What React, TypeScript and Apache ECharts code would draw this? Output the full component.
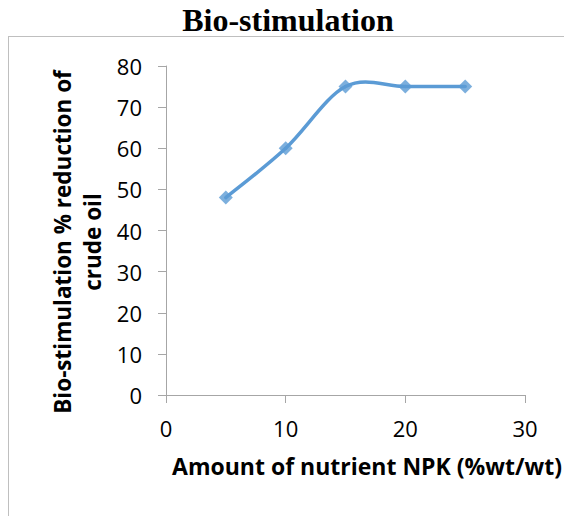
import React, { useEffect, useRef } from "react";
import * as echarts from "echarts";

const npkAmount = [5, 10, 15, 20, 25];
const reductionPct = [48, 60, 75, 75, 75];
const chartTitle = "Bio-stimulation";
const xAxisTitle = "Amount of nutrient NPK (%wt/wt)";
const yAxisTitle = "Bio-stimulation % reduction of\ncrude oil";

export default function App() {
  const ref = useRef<HTMLDivElement>(null);
  useEffect(() => {
    if (!ref.current) return;
    const chart = echarts.init(ref.current, null, { renderer: "svg" });
    const sans = "'Open Sans', 'Noto Sans', sans-serif";
    const pts = npkAmount.map((x, i) => [x, reductionPct[i]]);
    const n = pts.length;
    const lineColor = "#5B9BD5";
    chart.setOption({
      animation: false,
      backgroundColor: "#ffffff",
      grid: { left: 166, right: 39, top: 66, bottom: 121 },
      xAxis: {
        type: "value",
        min: 0,
        max: 30,
        interval: 10,
        axisLine: { show: true, lineStyle: { color: "#A6A6A6", width: 1 } },
        axisTick: { show: true, length: 8, lineStyle: { color: "#A6A6A6" } },
        axisLabel: { color: "#000", fontSize: 22, fontFamily: sans, margin: 22 },
        splitLine: { show: false },
      },
      yAxis: {
        type: "value",
        min: 0,
        max: 80,
        interval: 10,
        axisLine: { show: true, lineStyle: { color: "#A6A6A6", width: 1 } },
        axisTick: { show: true, length: 8, lineStyle: { color: "#A6A6A6" } },
        axisLabel: { color: "#000", fontSize: 22, fontFamily: sans, margin: 24 },
        splitLine: { show: false },
      },
      series: [
        {
          type: "custom",
          data: pts.slice(0, n - 1),
          renderItem: (params: any, api: any) => {
            const i = params.dataIndex;
            const p0 = api.coord(pts[Math.max(i - 1, 0)]);
            const p1 = api.coord(pts[i]);
            const p2 = api.coord(pts[i + 1]);
            const p3 = api.coord(pts[Math.min(i + 2, n - 1)]);
            const t = 1 / 6;
            return {
              type: "bezierCurve",
              shape: {
                x1: p1[0],
                y1: p1[1],
                cpx1: p1[0] + (p2[0] - p0[0]) * t,
                cpy1: p1[1] + (p2[1] - p0[1]) * t,
                cpx2: p2[0] - (p3[0] - p1[0]) * t,
                cpy2: p2[1] - (p3[1] - p1[1]) * t,
                x2: p2[0],
                y2: p2[1],
              },
              style: { stroke: lineColor, lineWidth: 3.5, fill: "none", lineCap: "round" },
            };
          },
          z: 2,
        },
        {
          type: "scatter",
          data: pts,
          symbol: "diamond",
          symbolSize: 14,
          itemStyle: { color: lineColor },
          z: 3,
        },
      ],
      graphic: [
        {
          type: "line",
          shape: { x1: 8, y1: 36.5, x2: 564, y2: 36.5 },
          style: { stroke: "#BFBFBF", lineWidth: 1 },
        },
        {
          type: "line",
          shape: { x1: 8.5, y1: 36, x2: 8.5, y2: 516 },
          style: { stroke: "#BFBFBF", lineWidth: 1 },
        },
        {
          type: "text",
          x: 288,
          y: 20,
          style: {
            text: chartTitle,
            align: "center",
            verticalAlign: "middle",
            font: "bold 32px 'Liberation Serif', 'Times New Roman', serif",
            fill: "#000",
          },
        },
        {
          type: "text",
          x: 367,
          y: 466,
          style: {
            text: xAxisTitle,
            align: "center",
            verticalAlign: "middle",
            font: "bold 23px " + sans,
            fill: "#000",
          },
        },
        {
          type: "text",
          x: 77,
          y: 242,
          rotation: Math.PI / 2,
          style: {
            text: yAxisTitle,
            align: "center",
            verticalAlign: "middle",
            lineHeight: 30,
            font: "bold 22.5px " + sans,
            fill: "#000",
          },
        },
      ],
    });
    return () => chart.dispose();
  }, []);
  return <div ref={ref} style={{ width: 564, height: 516, position: "fixed", left: 0, top: 0 }} />;
}
